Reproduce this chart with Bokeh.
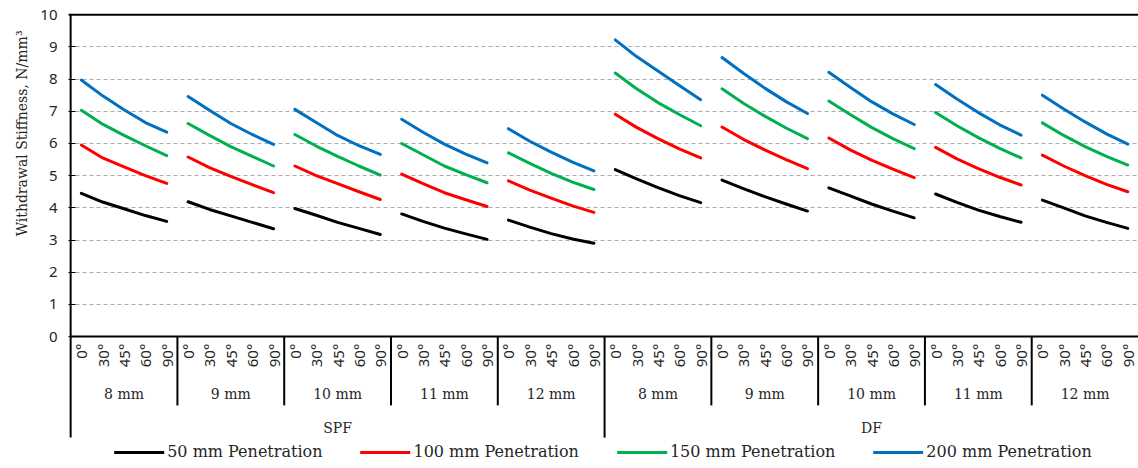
import math
from bokeh.plotting import figure
from bokeh.models import Range1d, FixedTicker, Legend, LegendItem, Span, ColumnDataSource, Title
from bokeh.core.properties import value
from bokeh.embed import file_html
from bokeh.resources import INLINE

# ---------------- data ----------------
angles = ["0°", "30°", "45°", "60°", "90°"]
diameters = ["8 mm", "9 mm", "10 mm", "11 mm", "12 mm"]
species = ["SPF", "DF"]
series_names = ["50 mm Penetration", "100 mm Penetration", "150 mm Penetration", "200 mm Penetration"]
colors = ["#000000", "#FF0000", "#00B050", "#0070C0"]

pen_50 = [4.45, 4.18, 3.97, 3.76, 3.58, 4.19, 3.95, 3.75, 3.55, 3.35,
          3.98, 3.77, 3.55, 3.36, 3.17, 3.81, 3.58, 3.37, 3.19, 3.02,
          3.62, 3.40, 3.20, 3.03, 2.90, 5.19, 4.90, 4.63, 4.38, 4.16,
          4.86, 4.60, 4.35, 4.12, 3.90, 4.62, 4.37, 4.12, 3.90, 3.69,
          4.43, 4.17, 3.93, 3.73, 3.55, 4.24, 4.00, 3.75, 3.55, 3.36]
pen_100 = [5.95, 5.55, 5.27, 5.00, 4.76, 5.58, 5.25, 4.98, 4.72, 4.47,
           5.30, 5.00, 4.75, 4.50, 4.26, 5.05, 4.75, 4.47, 4.25, 4.04,
           4.84, 4.55, 4.30, 4.06, 3.86, 6.91, 6.50, 6.15, 5.83, 5.55,
           6.51, 6.13, 5.80, 5.50, 5.22, 6.17, 5.80, 5.48, 5.20, 4.94,
           5.88, 5.52, 5.22, 4.95, 4.71, 5.64, 5.30, 5.00, 4.73, 4.50]
pen_150 = [7.03, 6.60, 6.25, 5.93, 5.62, 6.62, 6.25, 5.90, 5.60, 5.30,
           6.28, 5.92, 5.60, 5.30, 5.02, 6.00, 5.65, 5.30, 5.03, 4.78,
           5.71, 5.38, 5.07, 4.80, 4.57, 8.19, 7.70, 7.27, 6.90, 6.55,
           7.70, 7.25, 6.85, 6.48, 6.15, 7.32, 6.90, 6.50, 6.15, 5.84,
           6.96, 6.55, 6.18, 5.85, 5.55, 6.64, 6.25, 5.90, 5.60, 5.33]
pen_200 = [7.97, 7.48, 7.05, 6.65, 6.35, 7.46, 7.03, 6.62, 6.28, 5.97,
           7.06, 6.65, 6.25, 5.93, 5.66, 6.75, 6.35, 5.98, 5.67, 5.40,
           6.46, 6.07, 5.73, 5.42, 5.15, 9.22, 8.70, 8.25, 7.80, 7.36,
           8.67, 8.18, 7.72, 7.30, 6.93, 8.21, 7.75, 7.30, 6.92, 6.59,
           7.83, 7.38, 6.96, 6.58, 6.26, 7.50, 7.07, 6.67, 6.30, 5.98]
series_values = [pen_50, pen_100, pen_150, pen_200]
y_ticks = list(range(0, 11))
y_title = "Withdrawal Stiffness, N/mm³"

# ---------------- figure ----------------
n_ang = len(angles)
n_grp = len(species) * len(diameters)
n_cat = n_ang * n_grp

SERIF = "DejaVu Serif"
SANS = "Noto Sans"
TXT = "#262626"

p = figure(width=1138, height=468, output_backend="svg", toolbar_location=None,
           x_range=Range1d(-0.1, n_cat), y_range=Range1d(-4.10, 10.07),
           min_border_left=68, min_border_right=0, min_border_top=12, min_border_bottom=0)
p.outline_line_color = None
p.background_fill_color = "white"
p.xaxis.visible = False
p.xgrid.visible = False

p.yaxis.ticker = FixedTicker(ticks=y_ticks)
p.yaxis.axis_line_color = None
p.yaxis.major_tick_in = 7
p.yaxis.major_tick_out = 0
p.yaxis.minor_tick_line_color = None
p.yaxis.major_tick_line_color = "black"
p.yaxis.major_tick_line_width = 1
p.yaxis.major_label_standoff = 11
p.yaxis.major_label_text_font = SANS
p.yaxis.major_label_text_font_size = "15px"
p.yaxis.major_label_text_color = TXT

p.ygrid.ticker = FixedTicker(ticks=y_ticks[1:-1])
p.ygrid.grid_line_color = "#ABABAB"
p.ygrid.grid_line_dash = "4 3"
p.ygrid.grid_line_width = 1

# y-axis title (positioned over the 0..10 part of the left side)
p.add_layout(Title(text=y_title, align="right", offset=18, standoff=16,
                   text_font=SERIF, text_font_size="14px", text_font_style="normal",
                   text_color=TXT), "left")

# frame lines
p.add_layout(Span(location=y_ticks[-1], dimension="width", line_color="black", line_width=2))
p.segment(x0=[0, 0], y0=[0, y_ticks[-1]], x1=[n_cat, 0], y1=[0, -3.14],
          line_color="black", line_width=2)

# separators between groups
sep_x, sep_y1 = [], []
for g in range(1, n_grp):
    sep_x.append(g * n_ang)
    sep_y1.append(-3.14 if g % len(diameters) == 0 else -2.14)
p.segment(x0=sep_x, y0=[0] * len(sep_x), x1=sep_x, y1=sep_y1, line_color="black", line_width=2)

# category labels
ang_src = ColumnDataSource(dict(x=[i + 0.5 for i in range(n_cat)],
                                y=[-0.22] * n_cat,
                                t=[angles[i % n_ang] for i in range(n_cat)]))
p.text(x="x", y="y", text="t", source=ang_src, angle=math.pi / 2,
       text_align="right", text_baseline="middle",
       text_font=value(SANS), text_font_size="15px", text_color=TXT)

dia_src = ColumnDataSource(dict(x=[g * n_ang + n_ang / 2 for g in range(n_grp)],
                                y=[-1.77] * n_grp,
                                t=[diameters[g % len(diameters)] for g in range(n_grp)]))
p.text(x="x", y="y", text="t", source=dia_src, text_align="center", text_baseline="middle",
       text_font=value(SERIF), text_font_size="14px", text_color=TXT)

sp_w = n_ang * len(diameters)
sp_src = ColumnDataSource(dict(x=[s * sp_w + sp_w / 2 for s in range(len(species))],
                               y=[-2.83] * len(species), t=species))
p.text(x="x", y="y", text="t", source=sp_src, text_align="center", text_baseline="middle",
       text_font=value(SERIF), text_font_size="14px", text_color=TXT)

# series lines (broken between groups)
items = []
for name, vals, col in zip(series_names, series_values, colors):
    xs = [[g * n_ang + k + 0.5 for k in range(n_ang)] for g in range(n_grp)]
    ys = [vals[g * n_ang:(g + 1) * n_ang] for g in range(n_grp)]
    r = p.multi_line(xs=xs, ys=ys, line_color=col, line_width=3, line_join="round", line_cap="round")
    items.append(LegendItem(label=name, renderers=[r]))

legend = Legend(items=items, orientation="horizontal", location="bottom_center",
                border_line_color=None, background_fill_alpha=0,
                glyph_width=50, glyph_height=12, label_height=12, label_standoff=3,
                spacing=38, padding=0, margin=7,
                label_text_font=SERIF, label_text_font_size="16px", label_text_color=TXT)
p.add_layout(legend)

open("out.html", "w").write(file_html(p, INLINE))
